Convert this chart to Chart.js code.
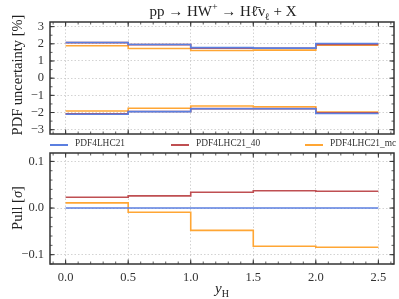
<!DOCTYPE html>
<html>
<head>
<meta charset="utf-8">
<script src="https://cdn.jsdelivr.net/npm/chart.js@4.4.1/dist/chart.umd.min.js"></script>
<style>
  body { margin: 0; background: #fff; }
  #wrap { position: relative; width: 399px; height: 299px; font-family: "Liberation Serif", serif; color: #222; }
  canvas { position: absolute; left: 0; top: 0; }
  .lbl { position: absolute; white-space: nowrap; }
  .leg { position: absolute; top: 138px; font-size: 9.4px; white-space: nowrap; color: #333; }
  .sw { position: absolute; top: 144px; width: 18px; height: 2px; }
</style>
</head>
<body>
<div id="wrap">
  <canvas id="top" width="399" height="299"></canvas>
  <canvas id="bot" width="399" height="299"></canvas>
  <div class="lbl" style="left:223px;top:1px;transform:translateX(-50%);font-size:15px;">pp → HW<sup style="font-size:10px">+</sup> → Hℓ̄ν<sub style="font-size:10px">ℓ</sub> + X</div>
  <div class="lbl" style="left:17px;top:75px;transform:translate(-50%,-50%) rotate(-90deg);font-size:14.5px;">PDF uncertainty [%]</div>
  <div class="lbl" style="left:17px;top:208px;transform:translate(-50%,-50%) rotate(-90deg);font-size:14.5px;">Pull [<i>σ</i>]</div>
  <div class="lbl" style="left:222px;top:280px;transform:translateX(-50%);font-size:15px;"><i>y</i><sub style="font-size:10px">H</sub></div>
  <div class="sw" style="left:50px;background:#5b7fe0"></div><div class="leg" style="left:75px;">PDF4LHC21</div>
  <div class="sw" style="left:171px;background:#bf4f52"></div><div class="leg" style="left:196px;">PDF4LHC21_40</div>
  <div class="sw" style="left:305px;background:#ffa634"></div><div class="leg" style="left:330px;">PDF4LHC21_mc</div>
</div>
<script>
// bordes de los bins en y_H
const binEdges = [0, 0.5, 1.0, 1.5, 2.0, 2.5]
const seriesNames = ['PDF4LHC21', 'PDF4LHC21_40', 'PDF4LHC21_mc']
const colors = ['#5b7fe0', '#bf4f52', '#ffa634']

// incertidumbre PDF [%] por bin
const upPDF4LHC21 = [2.08, 1.96, 1.78, 1.75, 2.02]
const dnPDF4LHC21 = [-2.10, -1.95, -1.78, -1.78, -2.06]
const up40 = [2.07, 1.95, 1.74, 1.74, 1.97]
const dn40 = [-2.08, -1.94, -1.77, -1.77, -2.02]
const upMc = [1.89, 1.73, 1.61, 1.63, 1.92]
const dnMc = [-1.91, -1.75, -1.62, -1.66, -1.97]

// pull [sigma] por bin
const pullPDF4LHC21 = [0, 0, 0, 0, 0]
const pull40 = [0.023, 0.026, 0.034, 0.037, 0.036]
const pullMc = [0.011, -0.009, -0.048, -0.082, -0.084]

const topTicks = [-3, -2, -1, 0, 1, 2, 3]
const botTicks = [-0.1, 0.0, 0.1]
const xTicks = [0.0, 0.5, 1.0, 1.5, 2.0, 2.5]

const steps = vals => binEdges.map((x, i) => ({ x: x, y: vals[Math.min(i, vals.length - 1)] }))

const lineDs = (vals, color) => ({
    data: steps(vals),
    borderColor: color,
    borderWidth: 1.6,
    stepped: 'before',
    pointRadius: 0,
    fill: false
})

// marco y ticks hacia dentro
const frame = {
    id: 'frame',
    afterDraw(chart, args, opts) {
        const { ctx, chartArea: a, scales } = chart
        ctx.save()
        ctx.strokeStyle = '#333'
        const tick = (scale, v, len) => {
            const p = scale.getPixelForValue(v)
            if (scale.axis === 'x') {
                if (p < a.left || p > a.right) return
                ctx.moveTo(p, a.bottom); ctx.lineTo(p, a.bottom - len)
                ctx.moveTo(p, a.top); ctx.lineTo(p, a.top + len)
            } else {
                if (p < a.top || p > a.bottom) return
                ctx.moveTo(a.left, p); ctx.lineTo(a.left + len, p)
                ctx.moveTo(a.right, p); ctx.lineTo(a.right - len, p)
            }
        }
        ctx.lineWidth = 0.8
        ctx.beginPath()
        for (let v = -0.1; v <= 2.7; v += 0.1) tick(scales.x, +v.toFixed(2), 2.5)
        for (let v = opts.min; v <= opts.max + 1e-9; v += opts.minor) tick(scales.y, +v.toFixed(3), 2.5)
        ctx.stroke()
        ctx.lineWidth = 1
        ctx.beginPath()
        xTicks.forEach(v => tick(scales.x, v, 4.5))
        opts.major.forEach(v => tick(scales.y, v, 4.5))
        ctx.stroke()
        ctx.lineWidth = 1.5
        ctx.strokeRect(a.left, a.top, a.right - a.left, a.bottom - a.top)
        ctx.restore()
    }
}

const gridOpts = { color: '#c8c8c8', lineWidth: 0.8, drawTicks: false }
const borderOpts = { display: false, dash: [1.5, 2] }

const makeChart = (id, datasets, yMin, yMax, major, minor, padTop, padBottom, showX, fmt) => new Chart(id, {
    type: 'line',
    data: { datasets: datasets },
    options: {
        responsive: false,
        animation: false,
        layout: { padding: { top: padTop, bottom: padBottom, right: 5, left: 0 } },
        plugins: {
            legend: { display: false },
            tooltip: { enabled: false },
            frame: { min: Math.ceil(yMin / minor) * minor, max: yMax, major: major, minor: minor }
        },
        scales: {
            x: {
                type: 'linear', min: -0.125, max: 2.625,
                afterBuildTicks: s => { s.ticks = xTicks.map(v => ({ value: v })) },
                afterFit: s => { s.height = showX ? 35 : 0 },
                grid: gridOpts, border: borderOpts,
                ticks: { display: showX, padding: 6, color: '#333', font: { family: 'Liberation Serif', size: 12.5 }, callback: v => v.toFixed(1) }
            },
            y: {
                type: 'linear', min: yMin, max: yMax,
                afterBuildTicks: s => { s.ticks = major.map(v => ({ value: v })) },
                afterFit: s => { s.width = 50 },
                grid: gridOpts, border: borderOpts,
                ticks: { padding: 6, color: '#333', font: { family: 'Liberation Serif', size: 12.5 }, callback: fmt }
            }
        }
    },
    plugins: [frame]
})

const topSets = [
    lineDs(upPDF4LHC21, colors[0]), lineDs(dnPDF4LHC21, colors[0]),
    lineDs(up40, colors[1]), lineDs(dn40, colors[1]),
    lineDs(upMc, colors[2]), lineDs(dnMc, colors[2])
]
const botSets = [
    lineDs(pullPDF4LHC21, colors[0]),
    lineDs(pull40, colors[1]),
    lineDs(pullMc, colors[2])
]

makeChart('top', topSets, -3.25, 3.27, topTicks, 0.5, 22, 165, false,
    v => (v < 0 ? '\u2212' + Math.abs(v) : '' + v))
makeChart('bot', botSets, -0.12, 0.118, botTicks, 0.02, 153, 0, true,
    v => (v < 0 ? '\u2212' + Math.abs(v).toFixed(1) : v.toFixed(1)))
</script>
</body>
</html>
